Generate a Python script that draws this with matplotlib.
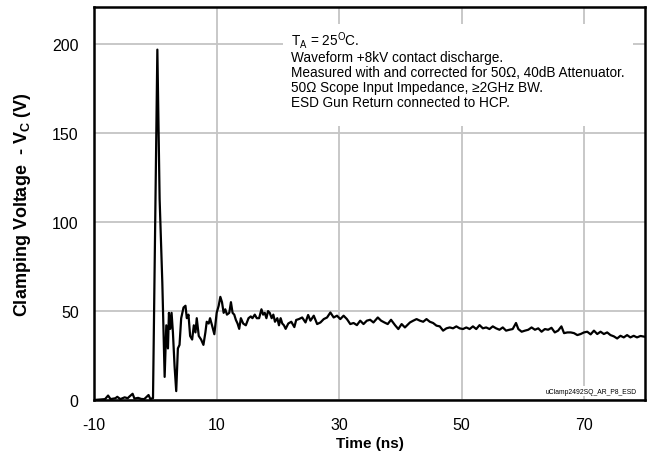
import numpy as np
import matplotlib
matplotlib.use('Agg')
import matplotlib.pyplot as plt
from matplotlib.patches import Rectangle

plt.rcParams['font.family'] = ['Liberation Sans', 'DejaVu Sans']
plt.rcParams['mathtext.fontset'] = 'custom'
plt.rcParams['mathtext.rm'] = 'Liberation Sans'
plt.rcParams['mathtext.bf'] = 'Liberation Sans:bold'
plt.rcParams['axes.unicode_minus'] = False

# baseline before the discharge
t_pre = [-10, -9, -8.2, -7.7, -7.3, -6.5, -6.2, -5.7, -5, -4.5, -4.2, -3.7, -3.4,
         -2.8, -2.3, -1.8, -1.1, -0.8, -0.45]
v_pre = [0, 0.3, 0.5, 2.5, 0.5, 1, 1.8, 0.5, 1.5, 1, 2, 3.5, 0.8,
         1.2, 0.6, 0.5, 2.8, 0.5, 1]

# spike and ringing
t_ring = [-0.37, 0.34, 0.71, 1.15, 1.53, 1.80, 2.07, 2.23, 2.45, 2.66, 2.88, 3.15, 3.42,
          3.69, 3.96, 4.23, 4.61, 4.93, 5.15, 5.42, 5.69, 6.02, 6.29, 6.56, 6.77, 7.10,
          7.48, 7.86, 8.18, 8.40, 8.72, 8.94, 9.26, 9.64, 10.02, 10.35, 10.62, 10.89,
          11.16, 11.43, 11.70, 12.08, 12.35, 12.62, 12.89, 13.16, 13.43, 13.70, 13.97,
          14.35, 14.78, 15.22, 15.59, 15.86, 16.24, 16.57, 16.95, 17.33, 17.60, 17.87,
          18.14, 18.41, 18.68, 19.00, 19.27, 19.54, 19.92, 20.19, 20.46, 20.73, 21.00,
          21.28, 21.71, 22.2, 22.7, 23.0]
v_ring = [1, 197, 113, 66, 13, 42, 29, 49, 40, 49, 38, 19, 5,
          29, 31, 46, 52, 53, 46, 48, 36, 34, 42, 38, 46, 36,
          34, 31, 38, 44, 43, 46, 42, 37, 49, 53, 58, 55,
          49, 51, 48, 49, 55, 49, 48, 45, 43, 40, 46,
          43, 42, 46, 47, 46, 48, 46, 46, 51, 48, 49,
          46, 50, 49, 46, 48, 44, 46, 42, 46, 43, 42,
          40, 43, 44, 41, 45]

# slow decay tail
t_tail = [23.44, 23.98, 24.52, 24.95, 25.33, 25.87, 26.42, 26.96, 27.50, 28.04, 28.58,
          29.12, 29.66, 30.20, 30.74, 31.28, 31.83, 32.37, 32.91, 33.45, 33.99, 34.53,
          35.07, 35.61, 36.32, 36.86, 37.40, 37.94, 38.48, 39.13, 39.67, 40.21, 40.75,
          41.57, 42.11, 42.65, 43.19, 43.73, 44.27, 44.81, 45.35, 45.90, 46.44, 46.98,
          47.52, 48.06, 48.60, 49.14, 49.68, 50.22, 50.77, 51.31, 51.85, 52.39, 52.93,
          53.47, 54.01, 54.55, 55.09, 55.63, 56.18, 56.72, 57.26, 57.80, 58.34, 58.88,
          59.26, 59.80, 60.34, 60.88, 61.42, 61.97, 62.51, 63.05, 63.59, 64.13, 64.67,
          65.21, 65.75, 66.29, 66.72, 67.27, 67.81, 68.35, 68.89, 69.43, 69.97, 70.51,
          71.06, 71.60, 72.14, 72.68, 73.22, 73.76, 74.30, 74.84, 75.39, 75.93, 76.47,
          77.01, 77.55, 78.09, 78.63, 79.2, 80]
v_tail = [45.5, 46.4, 43.6, 47.8, 44.6, 47.4, 42.7, 43.6, 45.5, 46.4, 49.2,
          46.4, 47.4, 45.5, 47.4, 45.5, 42.7, 43.3, 42.1, 44.6, 42.7, 44.6,
          45.1, 43.6, 46.4, 44.6, 43.6, 42.7, 45.1, 42.1, 39.9, 42.7, 40.8,
          43.6, 44.6, 45.5, 44.6, 44.0, 45.5, 44.0, 43.3, 41.8, 41.4, 39.0,
          40.3, 40.8, 40.3, 41.4, 40.3, 39.9, 40.8, 39.9, 41.4, 39.9, 42.1,
          40.3, 40.8, 39.9, 41.4, 40.3, 39.5, 40.8, 39.0, 39.5, 39.9, 43.3,
          39.9, 38.4, 39.0, 39.5, 40.8, 39.5, 40.3, 38.4, 39.9, 39.5, 40.6,
          38.0, 39.0, 41.4, 37.6, 38.0, 38.0, 37.6, 36.5, 37.1, 38.0, 38.4,
          36.9, 39.0, 37.1, 38.4, 37.1, 38.0, 36.5, 35.8, 34.6, 36.1, 35.2,
          36.5, 35.2, 36.1, 35.2, 36, 35.5]

t = np.array(t_pre + t_ring + t_tail)
v = np.array(v_pre + v_ring + v_tail)

xticks = [-10, 10, 30, 50, 70]
yticks = [0, 50, 100, 150, 200]

fig = plt.figure(figsize=(6.51, 4.56), dpi=100)
ax = fig.add_axes([0.1444, 0.1206, 0.847, 0.862])
ax.set_axisbelow(True)
ax.plot(t, v, color='black', lw=1.6, zorder=3)

ax.set_xlim(-10, 80)
ax.set_ylim(0, 221)
ax.set_xticks(xticks)
ax.set_yticks(yticks)
ax.tick_params(axis='y', length=0, labelsize=11.5, pad=11)
ax.tick_params(axis='x', length=0, labelsize=11.5, pad=12)
ax.grid(True, color='#c4c4c4', lw=1.3)
for s in ax.spines.values():
    s.set_linewidth(1.8)

ax.set_xlabel('Time (ns)', fontsize=11, fontweight='bold', labelpad=3)
ax.set_ylabel(r'Clamping Voltage  - V$_\mathbf{C}$ (V)', fontsize=13,
              fontweight='bold', labelpad=14)

# white panel behind the notes
ax.add_patch(Rectangle((0.343, 0.697), 0.634, 0.26, transform=ax.transAxes,
                       facecolor='white', edgecolor='none', zorder=1))
notes = ('T$_\\mathregular{A}$ = 25$^\\mathregular{O}$C.\n'
         'Waveform +8kV contact discharge.\n'
         'Measured with and corrected for 50\u03a9, 40dB Attenuator.\n'
         '50\u03a9 Scope Input Impedance, \u22652GHz BW.\n'
         'ESD Gun Return connected to HCP.')
ax.text(0.358, 0.945, notes, transform=ax.transAxes, fontsize=9.8,
        va='top', ha='left', linespacing=1.08, zorder=2)

ax.text(0.985, 0.022, 'uClamp2492SQ_AR_P8_ESD', transform=ax.transAxes,
        fontsize=4.9, ha='right', va='center', zorder=2,
        bbox=dict(facecolor='white', edgecolor='none', pad=1))

fig.savefig('out.png', dpi=100)
